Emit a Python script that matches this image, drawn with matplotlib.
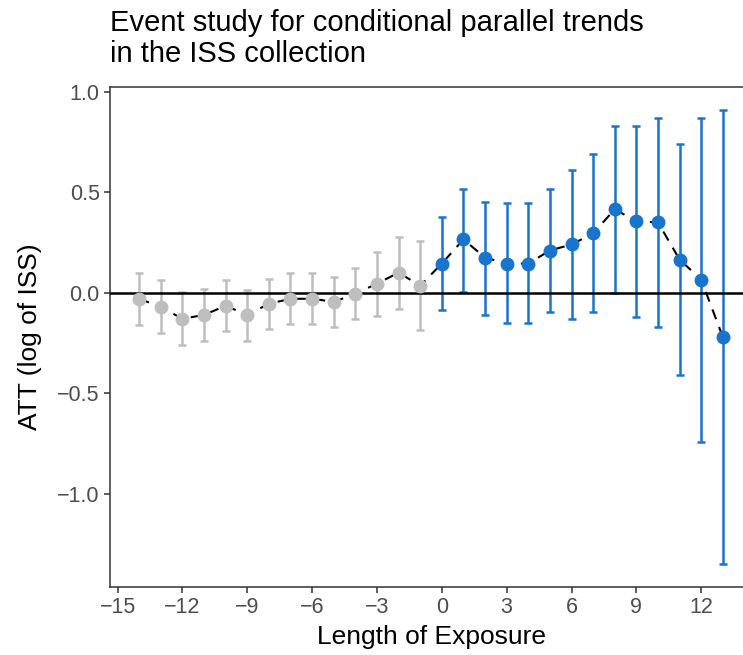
import matplotlib.pyplot as plt

# event time, estimates and 95% bounds
pre_t = [-14, -13, -12, -11, -10, -9, -8, -7, -6, -5, -4, -3, -2, -1]
pre_att = [-0.03, -0.07, -0.13, -0.11, -0.065, -0.11, -0.055, -0.03, -0.03, -0.045, -0.005, 0.045, 0.10, 0.035]
pre_hi = [0.10, 0.065, 0.005, 0.02, 0.065, 0.015, 0.07, 0.10, 0.10, 0.08, 0.125, 0.205, 0.275, 0.255]
pre_lo = [-0.16, -0.20, -0.26, -0.24, -0.19, -0.24, -0.18, -0.155, -0.155, -0.17, -0.13, -0.115, -0.08, -0.185]

post_t = [0, 1, 2, 3, 4, 5, 6, 7, 8, 9, 10, 11, 12, 13]
post_att = [0.145, 0.265, 0.175, 0.145, 0.145, 0.21, 0.24, 0.295, 0.415, 0.355, 0.35, 0.165, 0.065, -0.22]
post_hi = [0.375, 0.515, 0.45, 0.445, 0.445, 0.515, 0.61, 0.69, 0.83, 0.83, 0.87, 0.74, 0.87, 0.91]
post_lo = [-0.088, 0.005, -0.11, -0.15, -0.15, -0.095, -0.13, -0.095, 0.0, -0.12, -0.17, -0.41, -0.74, -1.35]

x_ticks = [-15, -12, -9, -6, -3, 0, 3, 6, 9, 12]
y_ticks = [-1.0, -0.5, 0.0, 0.5, 1.0]

grey = "#BEBEBE"
blue = "#1874CD"

plt.rcParams['font.family'] = ['Liberation Sans', 'DejaVu Sans']

fig = plt.figure(figsize=(7.43, 6.55), dpi=100)
# panel runs a little past the right edge, like the cropped original
ax = fig.add_axes([110/743, 68/655, 642/743, 500/655])

ax.axhline(0, color='black', lw=1.8, zorder=3)

def draw(t, att, lo, hi, col):
    ax.errorbar(t, att, yerr=[[a - l for a, l in zip(att, lo)], [h - a for a, h in zip(att, hi)]],
                fmt='none', ecolor=col, elinewidth=1.8, capsize=3, capthick=1.8, zorder=2)

draw(pre_t, pre_att, pre_lo, pre_hi, grey)
draw(post_t, post_att, post_lo, post_hi, blue)

ax.plot(pre_t + post_t, pre_att + post_att, color='black', lw=1.5, ls=(0, (5, 4)), zorder=4)
ax.plot(pre_t, pre_att, 'o', color=grey, ms=9, zorder=5)
ax.plot(post_t, post_att, 'o', color=blue, ms=9, zorder=5)

ax.set_xlim(-15.35, 14.35)
ax.set_ylim(-1.463, 1.023)
ax.set_xticks(x_ticks)
ax.set_xticklabels([str(v).replace('-', '\u2212') for v in x_ticks])
ax.set_yticks(y_ticks)
ax.set_yticklabels([f"{v:.1f}".replace('-', '\u2212') for v in y_ticks])

for s in ['left', 'bottom', 'top']:
    ax.spines[s].set_color('#333333')
    ax.spines[s].set_linewidth(1.1)
ax.spines['right'].set_visible(False)
ax.tick_params(colors='#333333', labelcolor='#4D4D4D', labelsize=15.5, length=4.3, width=1.1, pad=3)

ax.set_xlabel('Length of Exposure', fontsize=19, labelpad=5)
ax.set_ylabel('ATT (log of ISS)', fontsize=19, labelpad=11)
ax.xaxis.label.set_x((431 - 110) / 642)

fig.text(110/743, 1 - 9/655, 'Event study for conditional parallel trends\nin the ISS collection',
         fontsize=21, ha='left', va='top', linespacing=1.15)

fig.savefig('out.png', dpi=100)
